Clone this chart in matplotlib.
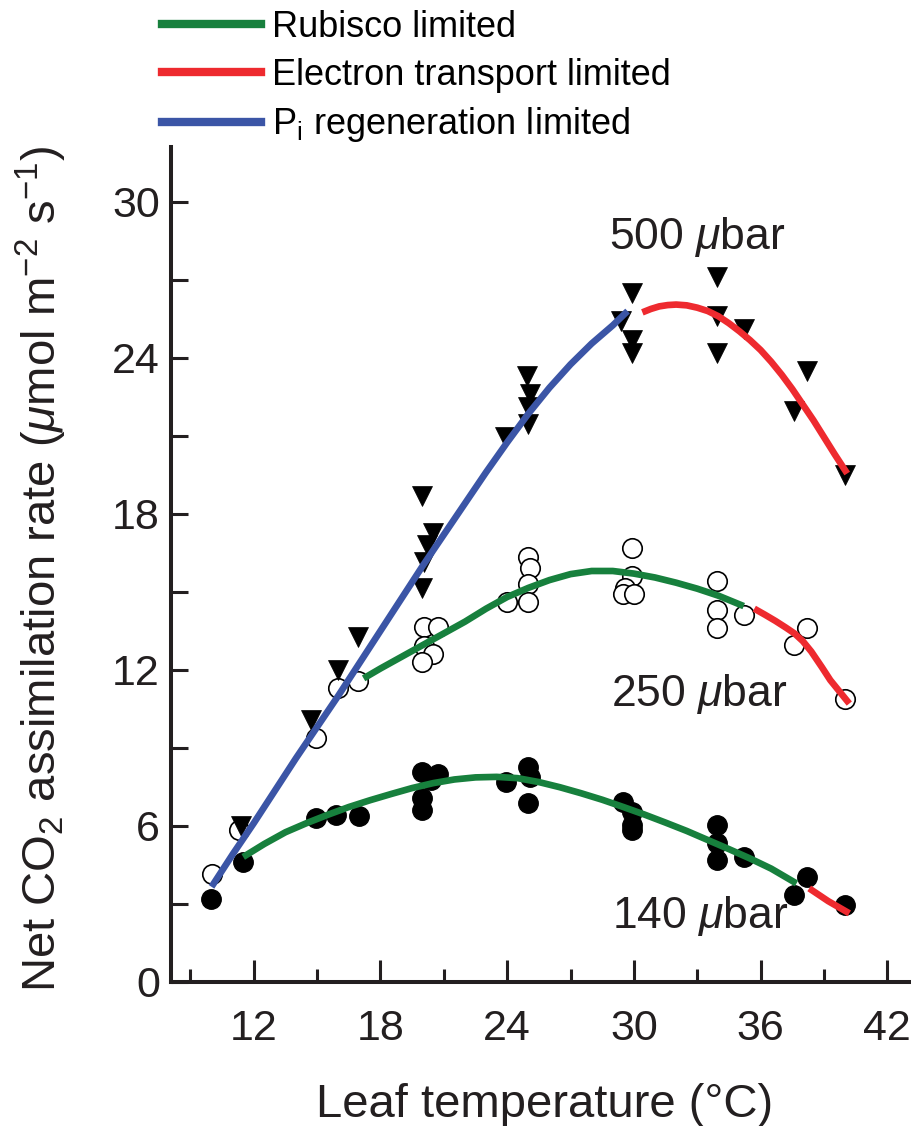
import matplotlib
matplotlib.use("Agg")
import matplotlib.pyplot as plt
from matplotlib.lines import Line2D
from matplotlib.ticker import MultipleLocator

plt.rcParams['font.family'] = ['Liberation Sans', 'DejaVu Sans']
plt.rcParams['mathtext.fontset'] = 'custom'
plt.rcParams['mathtext.rm'] = 'Liberation Sans'
plt.rcParams['mathtext.it'] = 'Liberation Sans:italic'
plt.rcParams['mathtext.default'] = 'regular'

# ---- data: measured points ----
t500 = [11.4, 14.7, 16.0, 16.95, 19.97, 20.07, 20.2, 20.5, 19.97, 23.9, 24.96, 25.1, 25.0, 25.0,
        29.93, 29.4, 29.9, 29.9, 33.95, 33.95, 33.95, 35.2, 38.2, 37.6, 40.0]
a500 = [6.0, 10.07, 12.0, 13.27, 15.14, 16.15, 16.8, 17.26, 18.7, 20.96, 23.3, 22.6, 22.1, 21.45,
        26.5, 25.4, 24.7, 24.2, 27.1, 25.6, 24.2, 25.1, 23.5, 21.95, 19.5]

t250 = [10.0, 11.3, 14.95, 16.0, 16.95, 20.07, 20.7, 20.07, 20.5, 19.97, 25.0, 25.1, 25.0, 25.0, 24.0,
        29.9, 29.9, 29.6, 29.5, 30.0, 33.95, 33.95, 33.95, 35.2, 38.2, 37.6, 40.0]
a250 = [4.15, 5.83, 9.37, 11.3, 11.55, 13.65, 13.65, 12.9, 12.6, 12.3, 16.35, 15.9, 15.3, 14.6, 14.6,
        16.7, 15.6, 15.15, 14.9, 14.9, 15.4, 14.3, 13.6, 14.1, 13.6, 12.95, 10.86]

t140 = [9.97, 11.5, 14.95, 15.9, 16.97, 19.97, 20.7, 20.4, 19.97, 19.97, 23.93, 25.0, 25.1, 25.0,
        29.5, 29.9, 29.9, 29.9, 33.95, 33.95, 33.95, 35.2, 37.6, 38.2, 40.0]
a140 = [3.2, 4.6, 6.28, 6.41, 6.37, 8.08, 8.0, 7.75, 7.05, 6.6, 7.7, 8.27, 7.88, 6.86,
        6.92, 6.54, 6.03, 5.83, 6.03, 5.33, 4.68, 4.81, 3.33, 4.04, 2.95]

# ---- data: model curves ----
pi500_t = [10.0, 11, 12, 13, 14, 15, 16, 17, 18, 19, 20, 21, 22, 23, 24, 25, 26, 27, 28, 29, 29.7]
pi500_a = [3.65, 4.9, 6.1, 7.35, 8.6, 9.8, 11.0, 12.25, 13.5, 14.75, 16.0, 17.2, 18.4, 19.6, 20.75,
           21.85, 22.85, 23.75, 24.55, 25.25, 25.8]
et500_t = [30.4, 30.8, 31.2, 31.6, 32.0, 32.5, 33, 33.5, 34, 34.5, 35, 35.5, 36, 36.5, 37, 37.5,
           38, 38.5, 39, 39.5, 40.1]
et500_a = [25.75, 25.88, 25.98, 26.03, 26.05, 26.02, 25.93, 25.8, 25.6, 25.33, 25.02, 24.68,
           24.3, 23.85, 23.35, 22.8, 22.2, 21.6, 20.95, 20.3, 19.55]

rb250_t = [17.2, 18, 19, 20, 21, 22, 23, 24, 25, 26, 27, 28, 29, 30, 31, 32, 33, 34, 35.2]
rb250_a = [11.67, 12.05, 12.5, 12.95, 13.4, 13.85, 14.35, 14.8, 15.15, 15.45, 15.68, 15.8, 15.8,
           15.7, 15.55, 15.35, 15.12, 14.85, 14.45]
et250_t = [35.7, 36.2, 36.7, 37.2, 37.6, 38.0, 38.4, 38.9, 39.3, 39.7, 40.2]
et250_a = [14.35, 14.12, 13.88, 13.62, 13.4, 13.1, 12.7, 12.1, 11.6, 11.2, 10.7]

rb140_t = [11.5, 12.5, 13.5, 14.5, 15.5, 16.5, 17.5, 18.5, 19.5, 20.5, 21.5, 22.5, 23.5, 24.5,
           25.5, 26.5, 27.5, 28.5, 29.5, 30.5, 31.5, 32.5, 33.5, 34.5, 35.5, 36.5, 37.7]
rb140_a = [4.8, 5.3, 5.75, 6.1, 6.42, 6.72, 6.98, 7.22, 7.45, 7.64, 7.78, 7.86, 7.88, 7.83,
           7.68, 7.48, 7.25, 7.0, 6.72, 6.43, 6.12, 5.8, 5.45, 5.1, 4.74, 4.35, 3.78]
et140_t = [38.3, 39.2, 40.2]
et140_a = [3.59, 3.1, 2.63]

xticks = [12, 18, 24, 30, 36, 42]
yticks = [0, 6, 12, 18, 24, 30]
legend_labels = ['Rubisco limited', 'Electron transport limited', 'P$_{\\rm i}$ regeneration limited']
co2_labels = ['500 $\\mathit{\\mu}$bar', '250 $\\mathit{\\mu}$bar', '140 $\\mathit{\\mu}$bar']
co2_pos = [(28.8, 28.2), (28.9, 10.6), (28.95, 2.05)]

GREEN = '#17803d'
RED = '#ee2a2f'
BLUE = '#3b55a6'
INK = '#231f20'

fig = plt.figure(figsize=(9.12, 11.26), dpi=100)
ax = fig.add_axes([171 / 912, 1 - 981.7 / 1126, 1 - 171 / 912 + 0.01, (981.7 - 147.3) / 1126])

ms = 14
ax.plot(t140, a140, 'o', color='black', ms=ms, mec='black', mew=1, zorder=3, clip_on=False)
ax.plot(t250, a250, 'o', color='white', ms=ms, mec='black', mew=1.2, zorder=3, clip_on=False)
ax.plot(t500, a500, 'v', color='black', ms=ms + 1, mec='black', mew=0.5, zorder=3, clip_on=False)

lw = 4.8
for tt, aa, c in [(pi500_t, pi500_a, BLUE), (et500_t, et500_a, RED),
                  (rb250_t, rb250_a, GREEN), (et250_t, et250_a, RED),
                  (rb140_t, rb140_a, GREEN), (et140_t, et140_a, RED)]:
    ax.plot(tt, aa, color=c, lw=lw, zorder=4, solid_capstyle='butt', solid_joinstyle='round')

for lab, (x, y) in zip(co2_labels, co2_pos):
    ax.text(x, y, lab, fontsize=32, ha='left', va='baseline', color=INK, zorder=5)

ax.set_xlim(8.08, 43.6)
ax.set_ylim(0, 32.1)
ax.set_xticks(xticks)
ax.set_xticks([9, 15, 21, 27, 33, 39], minor=True)
ax.set_yticks(yticks)
ax.yaxis.set_minor_locator(MultipleLocator(3))

for s in ['top', 'right']:
    ax.spines[s].set_visible(False)
for s in ['left', 'bottom']:
    ax.spines[s].set_linewidth(2.9)
    ax.spines[s].set_color(INK)

ax.tick_params(axis='x', which='major', direction='in', length=15.8, width=2.2, pad=20,
               labelsize=31, colors=INK)
ax.tick_params(axis='x', which='minor', direction='in', length=9.4, width=2.2, colors=INK)
ax.tick_params(axis='y', which='both', direction='in', length=12, width=2.2, pad=8,
               labelsize=31, colors=INK)

fig.text(545 / 912, 1 - 1117 / 1126, 'Leaf temperature (\u00b0C)', fontsize=34,
         ha='center', va='baseline', color=INK)
fig.text(14 / 912, 1 - 569 / 1126,
         'Net CO$_2$ assimilation rate ($\\mathit{\\mu}$mol m$^{-2}$ s$^{-1}$)',
         fontsize=34, rotation=90, ha='left', va='center', color=INK)

handles = [Line2D([], [], color=c, lw=6) for c in (GREEN, RED, BLUE)]
fig.legend(handles, legend_labels, loc='upper left', bbox_to_anchor=(162 / 912, 1 - 10 / 1126),
           frameon=False, fontsize=26, handlelength=2.74, handletextpad=0.3,
           labelspacing=0.35, borderpad=0, borderaxespad=0)

fig.savefig('out.png', dpi=100)
